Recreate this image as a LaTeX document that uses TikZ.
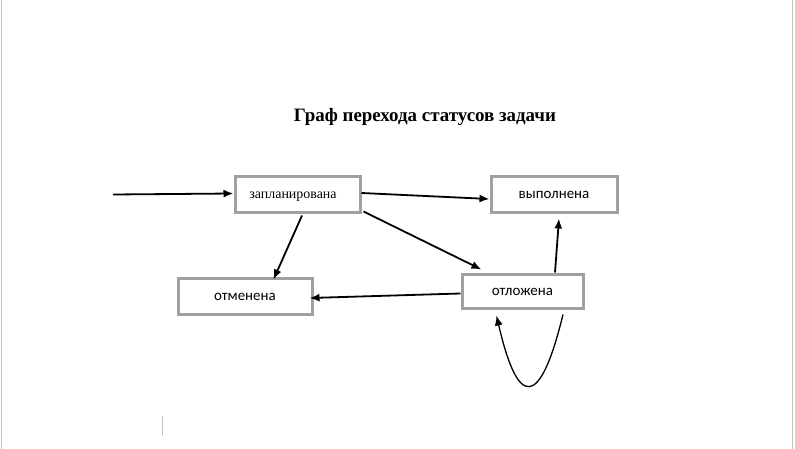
\documentclass[tikz,border=0pt]{standalone}
\usepackage{fontspec}
\setmainfont{Liberation Serif}
\newfontfamily\labfont{Carlito}
\usetikzlibrary{arrows.meta,calc}
\definecolor{boxgray}{HTML}{A0A0A0}
\definecolor{pagegray}{HTML}{C4C4C4}
\tikzset{
  statebox/.style={draw=boxgray, line width=3bp, fill=white, inner sep=0pt, align=center},
  conn/.style={line width=1.8bp, -{Latex[length=10bp,width=8bp]}},
}
\begin{document}
\begin{tikzpicture}[x=1bp,y=-1bp]
\useasboundingbox (0,0) rectangle (795,449);
\fill[white] (0,0) rectangle (795,449);
\draw[pagegray, line width=1.2bp] (1.5,0) -- (1.5,449);
\draw[pagegray, line width=1.2bp] (792.5,0) -- (792.5,449);
\draw[pagegray, line width=1bp] (162.5,416) -- (162.5,436);

\node[font=\bfseries\fontsize{19}{21}\selectfont] (title) at (425,117) {Граф перехода статусов задачи};

\node[statebox, minimum width=125bp, minimum height=36bp] (zapl) at (297.5,195) {};
\node[font=\fontsize{14}{16}\selectfont, inner sep=0pt, anchor=base] (zapltext) at (293,199) {запланирована};
\node[statebox, minimum width=134bp, minimum height=36bp, font=\labfont\fontsize{15}{17}\selectfont] (otmen) at (245,297) {отменена};
\node[statebox, minimum width=126bp, minimum height=36bp, font=\labfont\fontsize{15}{17}\selectfont] (vypoln) at (554,195) {выполнена};
\node[statebox, minimum width=121bp, minimum height=34bp, font=\labfont\fontsize{15}{17}\selectfont] (otlozh) at (522.5,292) {отложена};

\coordinate (start) at (113,194.5);
\draw[conn] (start) -- ($(zapl.west)+(0,-1.5)$);
\draw[conn] ($(zapl.east)+(0,-2)$) -- ($(vypoln.west)+(0,4)$);
\draw[conn] ($(zapl.south east)+(2,-3)$) -- ($(otlozh.north west)+(21,-4)$);
\draw[conn] ($(zapl.south)+(4.5,1)$) -- ($(otmen.north)+(28.5,2)$);
\draw[conn] ($(otlozh.west)+(0,1.5)$) -- ($(otmen.east)+(-4,1)$);
\draw[conn] ($(otlozh.north)+(32.5,-1)$) -- ($(vypoln.south)+(5,4)$);
\draw[conn, line width=1.3bp] ($(otlozh.south)+(40.5,4)$) .. controls (540,409) and (518,409) .. ($(otlozh.south)+(-26,5)$);
\end{tikzpicture}
\end{document}
